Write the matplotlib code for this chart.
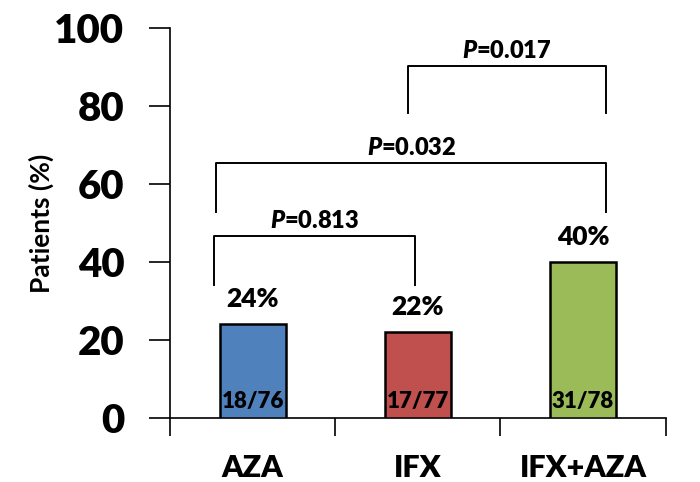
import matplotlib.pyplot as plt
import numpy as np

plt.rcParams['font.family'] = ['Lato', 'DejaVu Sans']
plt.rcParams['mathtext.fontset'] = 'custom'
plt.rcParams['mathtext.bfit'] = 'Lato:heavy:italic'
plt.rcParams['mathtext.rm'] = 'Lato:heavy'

# Data
groups = ['AZA', 'IFX', 'IFX+AZA']
rates = [24, 22, 40]
counts = ['18/76', '17/77', '31/78']
bar_colors = ['#4F81BD', '#C0504D', '#9BBB59']

# pairwise comparisons: (left group, right group, p-value)
comparisons = [(0, 1, '0.813'), (0, 2, '0.032'), (1, 2, '0.017')]
y_ticks = [0, 20, 40, 60, 80, 100]

W = 'heavy'

fig = plt.figure(figsize=(7, 4.82), dpi=100)
ax = fig.add_axes([0.243, 0.133, 0.708, 0.809])

x = np.arange(len(groups))
bars = ax.bar(x, rates, width=0.4, color=bar_colors, edgecolor='black', linewidth=1.8, zorder=3)

for xi, v, c in zip(x, rates, counts):
    ax.text(xi, v + 6.5, f'{v}%', ha='center', va='center', fontsize=19, fontweight=W)
    ax.text(xi, 4.2, c, ha='center', va='center', fontsize=16, fontweight=W, zorder=4)

# bracket geometry (x offsets from group centres, heights in %)
bracket_style = {
    (0, 1): dict(x0=-0.235, x1=-0.02, top=46.7, bottom=34.1),
    (0, 2): dict(x0=-0.22, x1=0.14, top=65.4, bottom=52.8),
    (1, 2): dict(x0=-0.06, x1=0.14, top=90.3, bottom=78.2),
}
for i, j, p in comparisons:
    s = bracket_style[(i, j)]
    xl, xr = i + s['x0'], j + s['x1']
    ax.plot([xl, xl, xr, xr], [s['bottom'], s['top'], s['top'], s['bottom']],
            color='black', linewidth=1.4, clip_on=False)
    ax.text((xl + xr) / 2, s['top'] + 3.7, r'$\mathbfit{P}$=' + p, ha='center', va='center',
            fontsize=17, fontweight=W)

ax.set_xlim(-0.5, 2.5)
ax.set_ylim(0, 100)
ax.set_yticks(y_ticks)
ax.set_yticklabels([str(t) for t in y_ticks], fontsize=29, fontweight=W)
ax.set_xticks([-0.5, 0.5, 1.5, 2.5])
ax.set_xticklabels([])
ax.set_xticks(x, minor=True)
ax.set_xticklabels(groups, minor=True, fontsize=22, fontweight=W)
ax.tick_params(axis='x', which='minor', length=0, pad=26)
ax.tick_params(axis='x', which='major', direction='out', length=13, width=1.2)
ax.tick_params(axis='y', direction='out', length=15, width=1.2, pad=18)

ax.spines['top'].set_visible(False)
ax.spines['right'].set_visible(False)
ax.spines['left'].set_linewidth(1.2)
ax.spines['bottom'].set_linewidth(1.2)
ax.spines['bottom'].set_bounds(-0.5, 2.5)

ax.set_ylabel('Patients (%)', fontsize=19, fontweight='bold')
ax.yaxis.set_label_coords(-0.235, 0.5)

fig.savefig('out.png', dpi=100)
